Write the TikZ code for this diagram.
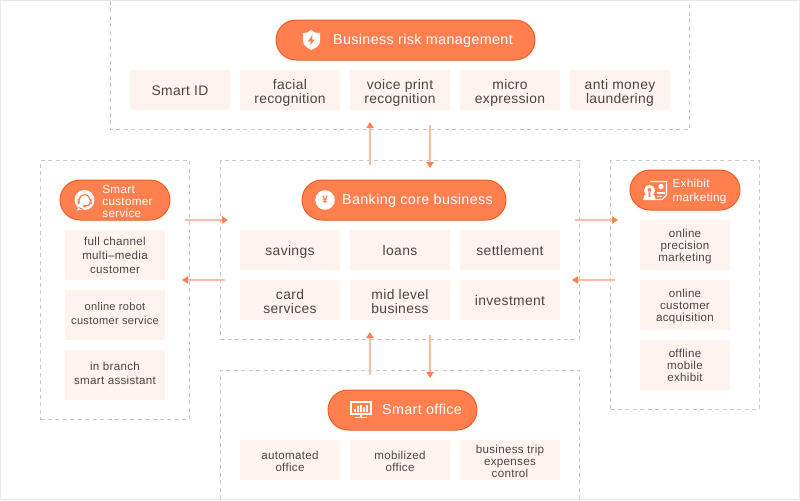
\documentclass[tikz,border=0pt]{standalone}
\usepackage{fontspec}
\setmainfont[LetterSpace=2.5]{Liberation Sans}
\usetikzlibrary{arrows.meta}
\definecolor{pillfill}{HTML}{FF7F4E}
\definecolor{pilledge}{HTML}{EE5F24}
\definecolor{boxfill}{HTML}{FFF3EE}
\definecolor{boxtext}{HTML}{4A4444}
\definecolor{panelline}{HTML}{C8C8C8}
\definecolor{frameline}{HTML}{E8E8E8}
\definecolor{arrowline}{HTML}{F9BDA3}
\definecolor{arrowhead}{HTML}{F98355}
\newcommand{\px}{0.75pt}
\tikzset{
    lift/.style={text height=#1, text depth=0pt},
    panel/.style={draw=panelline, line width=0.75pt, dash pattern=on 3pt off 2.6pt},
    pill/.style={draw=pilledge, line width=0.75pt, fill=pillfill, rounded corners=15pt, minimum height=40*\px},
    pilltext/.style={text=white, align=left, inner sep=0pt},
    bigtext/.style={pilltext, font=\fontsize{10.75}{10.5}\selectfont, lift=7.4pt},
    smalltext/.style={pilltext, font=\fontsize{8.8}{9}\selectfont, lift=26pt},
    item/.style={fill=boxfill, text=boxtext, align=center, minimum width=100*\px, minimum height=40*\px, inner sep=0pt, font=\fontsize{10.4}{10.5}\selectfont, lift=8.7pt},
    twoline/.style={lift=19.7pt},
    smallitem/.style={item, font=\fontsize{8.7}{9}\selectfont, lift=17.7pt},
    tallitem/.style={smallitem, minimum width=90*\px, minimum height=50*\px, lift=25.2pt},
    flow/.style={draw=arrowline, line width=1.1pt, -{Triangle[length=4.5pt,width=5.5pt,color=arrowhead]}},
    icon/.style={fill=white, draw=none},
    iconline/.style={draw=white, line width=0.8pt}
}
\begin{document}
\begin{tikzpicture}[x=\px, y=-\px]
    \useasboundingbox (0,0) rectangle (800,500);

    % thin edge of the picture
    \draw[frameline, line width=0.75pt] (0.5,0.5) rectangle (799.5,499.5);

    % dashed panels
    \draw[panel] (110.5,1) -- (110.5,129.5) -- (689.5,129.5) -- (689.5,1);
    \draw[panel] (220.5,499) -- (220.5,370.5) -- (579.5,370.5) -- (579.5,499);
    \node[panel, minimum width=359*\px, minimum height=179*\px] (corepanel) at (400,250) {};
    \node[panel, minimum width=149*\px, minimum height=259*\px] (servicepanel) at (115,290) {};
    \node[panel, minimum width=149*\px, minimum height=249*\px] (exhibitpanel) at (685,285) {};

    % Business risk management
    \node[pill, minimum width=259*\px] (riskpill) at (405.5,40) {};
    \node[bigtext] (risktitle) at (423,40) {Business risk management};
    \node[item] (smartid) at (180,90) {Smart ID};
    \node[item, twoline] (facial) at (290,90) {facial\\recognition};
    \node[item, twoline] (voice) at (400,90) {voice print\\recognition};
    \node[item, twoline] (micro) at (510,90) {micro\\expression};
    \node[item, twoline] (money) at (620,90) {anti money\\laundering};

    % Banking core business
    \node[pill, minimum width=204*\px] (corepill) at (404,200) {};
    \node[bigtext] (coretitle) at (417.5,200) {Banking core business};
    \node[item] (savings) at (290,250) {savings};
    \node[item] (loans) at (400,250) {loans};
    \node[item] (settlement) at (510,250) {settlement};
    \node[item, twoline] (card) at (290,300) {card\\services};
    \node[item, twoline] (midlevel) at (400,300) {mid level\\business};
    \node[item] (investment) at (510,300) {investment};

    % Smart customer service
    \node[pill, minimum width=110*\px] (servicepill) at (115,200) {};
    \node[smalltext] (servicetitle) at (127.5,200.5) {Smart\\customer\\service};
    \node[smallitem, minimum height=50*\px, font=\fontsize{8.7}{10.5}\selectfont, lift=28.2pt] (channel) at (115,255) {full channel\\multi–media\\customer};
    \node[smallitem, minimum height=50*\px, font=\fontsize{8.3}{10.5}\selectfont, lift=14.7pt] (robot) at (115,315) {online robot\\customer service};
    \node[smallitem, minimum height=50*\px, font=\fontsize{8.7}{10.5}\selectfont, lift=14.7pt] (assistant) at (115,375) {in branch\\smart assistant};

    % Exhibit marketing
    \node[pill, minimum width=110*\px] (exhibitpill) at (685,190) {};
    \node[smalltext, font=\fontsize{8.8}{10.5}\selectfont, lift=17.7pt] (exhibittitle) at (699.5,190) {Exhibit\\marketing};
    \node[tallitem] (precision) at (685,245) {online\\precision\\marketing};
    \node[tallitem] (acquisition) at (685,305) {online\\customer\\acquisition};
    \node[tallitem] (mobile) at (685,365) {offline\\mobile\\exhibit};

    % Smart office
    \node[pill, minimum width=149*\px] (officepill) at (402.5,410) {};
    \node[bigtext] (officetitle) at (422,410) {Smart office};
    \node[smallitem] (automated) at (290,460) {automated\\office};
    \node[smallitem] (mobilized) at (400,460) {mobilized\\office};
    \node[smallitem, lift=26.7pt] (expenses) at (510,460) {business trip\\expenses\\control};

    % Ends of the arrows
    \coordinate (a1) at (370,165); \coordinate (a2) at (370,122);
    \coordinate (b1) at (430,125); \coordinate (b2) at (430,168);
    \coordinate (c1) at (185,220); \coordinate (c2) at (228,220);
    \coordinate (d1) at (225,280); \coordinate (d2) at (182,280);
    \coordinate (e1) at (575,220); \coordinate (e2) at (618,220);
    \coordinate (f1) at (615,280); \coordinate (f2) at (572,280);
    \coordinate (g1) at (370,375); \coordinate (g2) at (370,332);
    \coordinate (h1) at (430,335); \coordinate (h2) at (430,378);
    \draw[flow] (a1) -- (a2);
    \draw[flow] (b1) -- (b2);
    \draw[flow] (c1) -- (c2);
    \draw[flow] (d1) -- (d2);
    \draw[flow] (e1) -- (e2);
    \draw[flow] (f1) -- (f2);
    \draw[flow] (g1) -- (g2);
    \draw[flow] (h1) -- (h2);

    % Shield icon
    \fill[icon] (303,33) .. controls (307,33) and (309,32) .. (311,30) .. controls (313,32) and (315,33) .. (320,33)
        -- (320,41) .. controls (320,46) and (315,48) .. (311.5,50) .. controls (308,48) and (303,46) .. (303,41) -- cycle;
    \fill[pillfill] (312.5,34.5) -- (308,41.5) -- (311,41.5) -- (309.5,46) -- (315,39.5) -- (312,39.5) -- cycle;

    % Yen icon
    \draw[white, line width=2.6pt] (325,200) circle (8);
    \fill[white] (325,200) circle (8);
    \node[text=pillfill, font=\bfseries\fontsize{8}{8}\selectfont, inner sep=0pt] (yen) at (325,200) {¥};

    % Headset icon
    \fill[icon] (84.5,200) circle (10) (79,207) -- (76.5,210.5) -- (85,209.5) -- cycle;
    \draw[pillfill, line width=0.9pt] (79,200) arc (180:360:5.5);
    \draw[pillfill, line width=0.9pt] (90,203) .. controls (90,205.5) and (88,206) .. (85,206);
    \fill[pillfill] (77.5,199) rectangle (79.5,204) (89.5,199) rectangle (91.5,204) (83,205) rectangle (86,207);

    % Monitor icon
    \draw[iconline] (351,402) rectangle (371,414);
    \draw[iconline] (361,414) -- (361,417) (355,417.5) -- (367,417.5);
    \draw[white, line width=0.8pt] (355,412) -- (355,409) (358,412) -- (358,406) (361,412) -- (361,404.5) (364,412) -- (364,407) (367,412) -- (367,405);

    % Exhibit icon
    \draw[iconline] (650,181.5) -- (666.5,181.5) -- (666.5,195) -- (662,199.5) -- (656,199.5);
    \fill[icon] (649.5,190.5) circle (5.5) (643,200) -- (644.5,195) -- (654,195) -- (656,200) -- cycle;
    \fill[pillfill] (649.5,190) circle (2) (648.7,191) rectangle (650.3,197);
    \fill[icon] (661,186.5) circle (2.6);
    \draw[iconline] (657,193) -- (665,193) (657,196.5) -- (662,196.5);
\end{tikzpicture}
\end{document}
